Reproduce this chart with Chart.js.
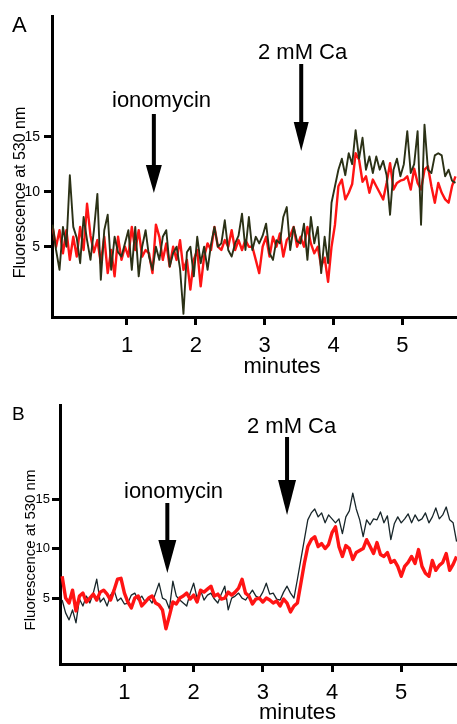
<!DOCTYPE html>
<html><head><meta charset="utf-8">
<script src="https://cdn.jsdelivr.net/npm/chart.js@4.4.1/dist/chart.umd.min.js"></script>
<style>
html,body{margin:0;padding:0;background:#fff;overflow:hidden;width:457px;height:724px;}
#wrapA{position:absolute;left:0;top:0;width:457px;height:380px;}
#wrapB{position:absolute;left:0;top:380px;width:457px;height:344px;}
</style></head><body>
<div id="wrapA"><canvas id="chartA"></canvas></div>
<div id="wrapB"><canvas id="chartB"></canvas></div>
<script>
// ---- axis ticks ----
const xTickValues = [1, 2, 3, 4, 5];
const yTickValues = [5, 10, 15];

// ---- event times (minutes) ----
const eventLabels = ['ionomycin', '2 mM Ca'];
const eventTimesA = [1.39, 3.53];
const eventTimesB = [1.62, 3.35];

// ---- panel A: sampling (minutes) ----
const panelAStart = -0.08;
const panelAStep = 0.05;
// dark trace, panel A (fluorescence at 530 nm)
const panelADark = [
 7.0,4.7,2.9,6.8,5.0,11.5,6.8,5.8,3.5,7.7,
 5.6,3.8,6.5,9.8,2.0,6.5,7.9,2.9,5.9,4.5,
 4.1,5.3,6.5,2.9,6.8,2.3,5.0,6.5,4.1,2.9,
 5.0,3.8,5.9,6.5,3.2,4.4,5.0,3.0,-1.1,4.5,
 5.0,2.3,5.9,3.5,5.0,2.9,5.2,6.8,5.0,5.3,
 7.4,4.7,4.1,5.3,6.0,8.0,4.7,7.7,4.7,5.9,
 5.3,6.0,7.1,4.4,3.8,5.6,5.3,7.7,8.6,4.7,
 6.8,5.5,5.3,7.1,3.8,7.7,5.3,6.8,2.6,5.9,
 3.5,9.0,10.5,12.0,13.0,11.5,13.5,12.5,15.6,13.0,
 14.9,12.0,13.2,11.7,13.2,12.0,12.8,11.5,7.9,12.0,
 13.0,11.4,12.5,15.5,11.7,12.5,15.5,7.0,16.1,12.0,
 11.7,13.3,13.5,13.3,11.4,12.0,11.0,10.8];
// red trace, panel A
const panelARed = [
 6.8,5.0,6.5,4.4,6.5,3.8,5.9,4.1,6.8,4.7,
 8.9,6.0,4.5,5.6,3.5,5.9,2.6,4.7,2.3,5.9,
 3.8,5.0,4.1,6.8,4.7,6.5,4.1,4.7,4.4,2.6,
 7.0,5.9,3.8,5.3,3.2,5.0,3.8,5.6,2.9,3.8,
 1.1,3.8,4.7,1.4,4.1,5.3,4.7,6.8,5.0,4.7,
 5.6,5.0,6.5,4.7,5.6,4.7,5.6,5.0,5.0,3.8,
 2.6,5.0,5.9,4.1,5.9,5.0,6.2,4.1,5.6,6.0,
 6.8,5.0,5.9,5.0,6.8,5.3,4.4,5.0,3.2,4.0,
 1.8,5.0,7.0,10.5,11.1,9.3,9.9,10.7,13.5,12.9,
 10.9,11.4,9.9,11.1,10.5,9.9,9.3,10.8,12.6,10.2,
 10.8,11.0,11.1,11.4,10.2,12.1,10.8,10.2,12.0,12.3,
 10.5,9.0,10.8,9.9,9.3,9.0,10.5,11.4];

// ---- panel B: sampling (minutes) ----
const panelBStart = 0.10;
const panelBStep = 0.05;
const panelBDark = [
 4.8,3.5,2.8,3.8,2.5,4.9,4.2,5.2,4.5,5.5,
 6.9,4.6,5.0,4.2,5.3,5.8,4.7,5.0,4.4,4.5,
 5.3,5.5,4.8,5.2,4.6,5.0,4.5,5.5,6.5,5.0,
 4.8,3.9,6.7,5.2,4.8,4.5,4.2,5.5,6.5,5.0,
 5.8,4.8,5.3,5.5,4.9,4.5,5.4,6.2,3.8,5.0,
 5.2,5.5,5.0,4.8,5.3,5.8,5.2,5.0,5.6,6.5,
 5.4,5.5,4.9,4.8,5.6,6.2,5.5,5.0,6.9,8.9,
 10.9,12.9,13.6,14.0,13.2,13.6,12.6,13.4,13.0,12.6,
 13.0,11.5,13.2,13.8,15.6,14.0,12.9,11.2,12.9,12.4,
 13.0,12.9,13.7,12.6,13.3,10.9,12.5,13.2,12.6,13.0,
 13.5,12.6,13.4,12.8,13.0,13.6,12.6,13.2,14.1,13.0,
 13.4,14.2,12.9,12.6,10.7];
const panelBRed = [
 7.2,5.0,4.5,5.8,3.7,5.2,5.5,4.6,5.0,5.4,
 4.8,5.6,5.8,5.4,4.8,5.8,6.9,7.0,5.5,4.6,
 4.0,5.0,5.2,4.2,4.6,5.0,5.2,4.5,4.3,3.8,
 1.9,3.2,4.6,4.4,5.0,5.2,5.5,4.9,5.3,4.6,
 5.8,5.6,5.9,6.2,5.2,5.4,4.9,5.0,5.6,5.3,
 5.6,6.0,6.9,5.5,5.2,4.4,4.9,5.0,4.6,5.0,
 4.8,4.5,4.7,4.2,4.9,4.5,3.6,4.2,4.5,6.5,
 8.5,10.2,10.9,11.2,10.2,10.5,10.0,10.4,11.6,12.2,
 10.2,9.2,10.3,10.0,8.9,9.6,9.8,10.0,10.9,10.2,
 9.5,10.6,9.4,9.2,9.6,8.6,8.8,8.2,7.2,8.2,
 8.6,9.2,8.5,9.9,8.2,7.5,7.2,8.8,7.8,8.3,
 8.6,9.5,7.8,8.4,9.2];

const FONT = "'Liberation Sans', Arial, Helvetica, sans-serif";

function toPoints(start, step, values) {
  return values.map((v, i) => ({ x: +(start + i * step).toFixed(3), y: v }));
}

const figureText = {
  id: 'figureText',
  afterDraw(chart, args, opts) {
    const ctx = chart.ctx;
    const xs = chart.scales.x;
    ctx.save();
    ctx.fillStyle = '#000';
    ctx.strokeStyle = '#000';
    (opts.labels || []).forEach(l => {
      ctx.font = l.font;
      ctx.textAlign = l.align || 'left';
      ctx.textBaseline = 'alphabetic';
      if (l.rotate) {
        ctx.save();
        ctx.translate(l.x, l.y);
        ctx.rotate(-Math.PI / 2);
        ctx.fillText(l.text, 0, 0);
        ctx.restore();
      } else {
        ctx.fillText(l.text, l.x, l.y);
      }
    });
    (opts.arrows || []).forEach(a => {
      const x = xs.getPixelForValue(a.t);
      ctx.lineWidth = 4;
      ctx.beginPath();
      ctx.moveTo(x, a.y0);
      ctx.lineTo(x, a.yHead + 2);
      ctx.stroke();
      ctx.beginPath();
      ctx.moveTo(x - a.hw, a.yHead);
      ctx.lineTo(x + a.hw, a.yHead);
      ctx.lineTo(x, a.yTip);
      ctx.closePath();
      ctx.fill();
    });
    ctx.restore();
  }
};

function makeChart(id, cfg) {
  return new Chart(document.getElementById(id), {
    type: 'line',
    data: { datasets: cfg.datasets },
    options: {
      responsive: true,
      maintainAspectRatio: false,
      animation: false,
      devicePixelRatio: 1,
      layout: { padding: { top: cfg.padTop, right: 0, left: 0, bottom: 0 } },
      plugins: {
        legend: { display: false },
        tooltip: { enabled: false },
        figureText: cfg.text
      },
      elements: { point: { radius: 0 }, line: { tension: 0, borderJoinStyle: 'round' } },
      scales: {
        x: {
          type: 'linear', min: cfg.xMin, max: cfg.xMax,
          afterBuildTicks: s => { s.ticks = xTickValues.map(v => ({ value: v })); },
          afterFit: s => { s.height = cfg.xAxisH; },
          ticks: { font: { family: FONT, size: 22 }, color: '#000', padding: cfg.xTickPad, maxRotation: 0, autoSkip: false, callback: v => String(v) },
          grid: { drawOnChartArea: false, drawTicks: true, tickLength: 8, tickWidth: 3, tickColor: '#000' },
          border: { display: true, width: 3, color: '#000' }
        },
        y: {
          type: 'linear', min: cfg.yMin, max: cfg.yMax,
          afterBuildTicks: s => { s.ticks = yTickValues.map(v => ({ value: v })); },
          afterFit: s => { s.width = cfg.yAxisW; },
          ticks: { font: { family: FONT, size: cfg.yTickSize }, color: '#000', padding: cfg.yTickPad, callback: v => String(v) },
          grid: { drawOnChartArea: false, drawTicks: true, tickLength: cfg.yTickLen, tickWidth: 3, tickColor: '#000' },
          border: { display: true, width: 3, color: '#000' }
        }
      }
    },
    plugins: [figureText]
  });
}

makeChart('chartA', {
  padTop: 16, xAxisH: 63, yAxisW: 52,
  xMin: -0.089, xMax: 5.792, yMin: -1.39, yMax: 25.97,
  xTickPad: 8, yTickSize: 14, yTickPad: 4, yTickLen: 8,
  datasets: [
    { data: toPoints(panelAStart, panelAStep, panelADark), borderColor: '#2b3116', borderWidth: 1.9 },
    { data: toPoints(panelAStart, panelAStep, panelARed), borderColor: '#ff1414', borderWidth: 2.4 }
  ],
  text: {
    labels: [
      { text: 'A', x: 12, y: 32, font: '22px ' + FONT },
      { text: eventLabels[1], x: 258, y: 59, font: '22px ' + FONT },
      { text: eventLabels[0], x: 112, y: 107, font: '22px ' + FONT },
      { text: 'minutes', x: 282, y: 372.5, align: 'center', font: '22px ' + FONT },
      { text: 'Fluorescence at 530 nm', x: 25, y: 192.5, align: 'center', rotate: true, font: '16px ' + FONT }
    ],
    arrows: [
      { t: eventTimesA[0], y0: 114, yHead: 165, yTip: 193, hw: 8 },
      { t: eventTimesA[1], y0: 64, yHead: 122, yTip: 151, hw: 7.5 }
    ]
  }
});

makeChart('chartB', {
  padTop: 25, xAxisH: 60, yAxisW: 60,
  xMin: 0.069, xMax: 5.806, yMin: -1.66, yMax: 24.5,
  xTickPad: 8, yTickSize: 13, yTickPad: 2, yTickLen: 8,
  datasets: [
    { data: toPoints(panelBStart, panelBStep, panelBRed), borderColor: '#ff1414', borderWidth: 3.4 },
    { data: toPoints(panelBStart, panelBStep, panelBDark), borderColor: '#18262a', borderWidth: 1.3 }
  ],
  text: {
    labels: [
      { text: 'B', x: 12, y: 40, font: '19px ' + FONT },
      { text: eventLabels[1], x: 247, y: 53, font: '22px ' + FONT },
      { text: eventLabels[0], x: 124, y: 118, font: '22px ' + FONT },
      { text: 'minutes', x: 297.5, y: 339, align: 'center', font: '22px ' + FONT },
      { text: 'Fluorescence at 530 nm', x: 35, y: 170, align: 'center', rotate: true, font: '15px ' + FONT }
    ],
    arrows: [
      { t: eventTimesB[0], y0: 123, yHead: 160, yTip: 193, hw: 9 },
      { t: eventTimesB[1], y0: 57, yHead: 100, yTip: 135, hw: 9 }
    ]
  }
});
</script>
</body></html>
